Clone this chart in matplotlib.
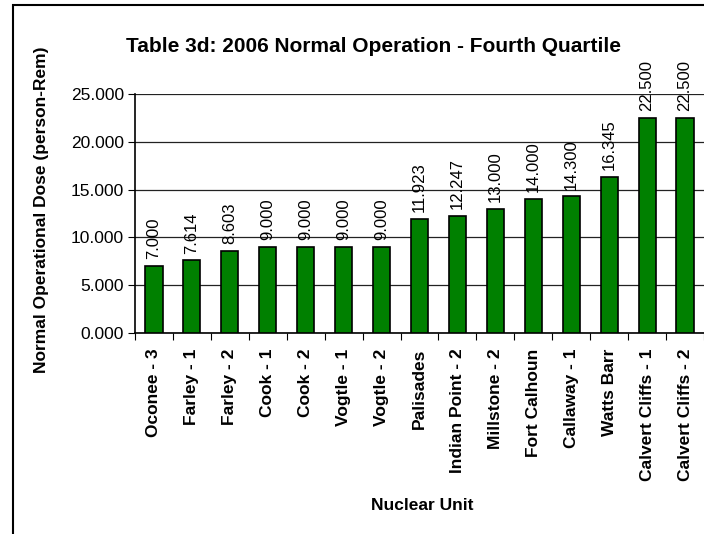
import matplotlib
matplotlib.use("Agg")
import matplotlib.pyplot as plt
from matplotlib.patches import Rectangle

units = ["Oconee - 3", "Farley - 1", "Farley - 2", "Cook - 1", "Cook - 2",
         "Vogtle - 1", "Vogtle - 2", "Palisades", "Indian Point - 2",
         "Millstone - 2", "Fort Calhoun", "Callaway - 1", "Watts Barr",
         "Calvert Cliffs - 1", "Calvert Cliffs - 2"]
doses = [7.000, 7.614, 8.603, 9.000, 9.000, 9.000, 9.000, 11.923, 12.247,
         13.000, 14.000, 14.300, 16.345, 22.500, 22.500]
yticks = [0, 5, 10, 15, 20, 25]

plt.rcParams['font.family'] = ['Liberation Sans', 'DejaVu Sans']

W, H = 704, 534
fig = plt.figure(figsize=(W/100, H/100), dpi=100)
fig.patches.append(Rectangle((13/W, -0.1), 1.2, (H-5)/H + 0.1, transform=fig.transFigure,
                             fill=False, edgecolor='black', linewidth=1.5))

ax = fig.add_axes([135/W, 1-333/H, (704-135)/W, (333-94)/H])
x = list(range(len(units)))
ax.bar(x, doses, width=0.45, color='#008000', edgecolor='black', linewidth=1.2, zorder=3)
ax.set_xlim(-0.5, len(units)-0.5)
ax.set_ylim(0, 25)
ax.set_yticks(yticks)
ax.set_yticklabels([f"{v:.3f}" for v in yticks], fontsize=12.5)
ax.yaxis.grid(True, color='#222222', linewidth=0.9, zorder=0)
ax.set_xticks([i - 0.5 for i in x] + [len(units)-0.5])
ax.set_xticklabels([])
ax.set_xticks(x, minor=True)
ax.set_xticklabels(units, minor=True, rotation=90, fontweight='bold', fontsize=12.5)
ax.tick_params(axis='x', which='minor', length=0, pad=11)
ax.tick_params(axis='x', which='major', length=5, color='black')
ax.tick_params(axis='y', length=5, pad=3)
for s in ['top', 'right']:
    ax.spines[s].set_visible(False)
ax.spines['left'].set_linewidth(1.2)
ax.spines['bottom'].set_linewidth(1.2)

for i, v in zip(x, doses):
    ax.text(i, v + 0.7, f"{v:.3f}", rotation=90, ha='center', va='bottom', fontsize=12, clip_on=False)

fig.text(373/W, 1-47/H, "Table 3d: 2006 Normal Operation - Fourth Quartile",
         ha='center', va='center', fontsize=15, fontweight='bold')
fig.text(42/W, 1-210/H, "Normal Operational Dose (person-Rem)", rotation=90,
         ha='center', va='center', fontsize=12.5, fontweight='bold')
fig.text(422/W, 1-505/H, "Nuclear Unit", ha='center', va='center', fontsize=12.5, fontweight='bold')

fig.savefig("out.png", dpi=100)
